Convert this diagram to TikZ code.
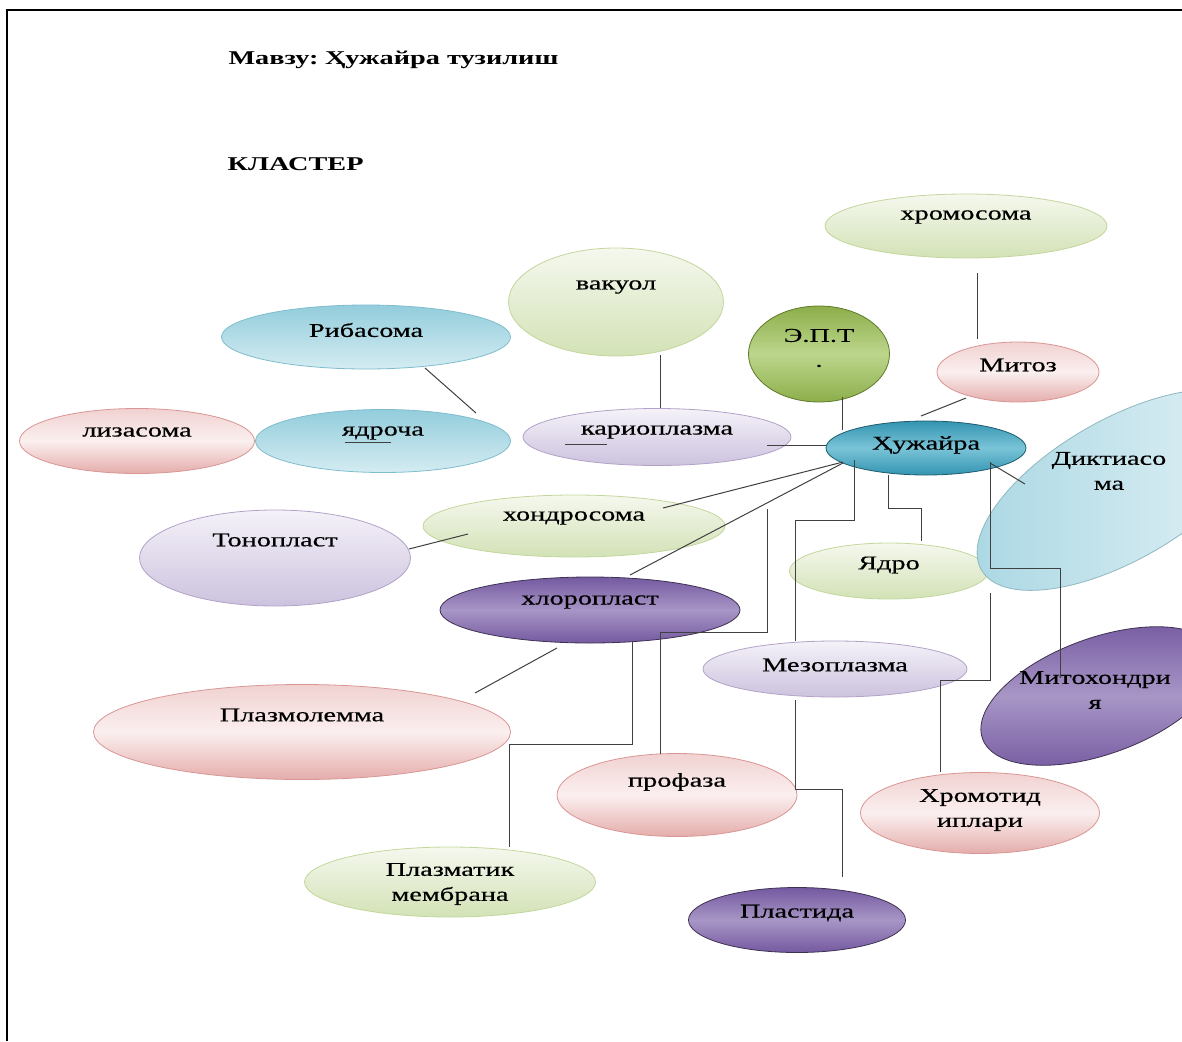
\documentclass[tikz,border=0pt]{standalone}
\usepackage{fontspec}
\setmainfont{Liberation Serif}[FakeStretch=1.45, UprightFeatures={FakeBold=0.5}]
\usetikzlibrary{shapes.geometric,calc}

\definecolor{grnlt}{HTML}{F5F8EE}
\definecolor{grndk}{HTML}{D3E2B6}
\definecolor{grnln}{HTML}{C3D69B}
\definecolor{blult}{HTML}{D4ECF2}
\definecolor{bludk}{HTML}{93CDDC}
\definecolor{bluln}{HTML}{7FBCCD}
\definecolor{pnklt}{HTML}{FBEFEF}
\definecolor{pnkdk}{HTML}{E4ADAB}
\definecolor{pnkln}{HTML}{D99694}
\definecolor{lillt}{HTML}{F5F2F9}
\definecolor{lildk}{HTML}{CCC2DE}
\definecolor{lilln}{HTML}{B3A2C7}
\definecolor{plmlt}{HTML}{A896C6}
\definecolor{plmdk}{HTML}{7459A0}
\definecolor{plmln}{HTML}{3F3151}
\definecolor{olvlt}{HTML}{BCD68C}
\definecolor{olvdk}{HTML}{8DAE4B}
\definecolor{olvln}{HTML}{5E7A2A}
\definecolor{hublt}{HTML}{7AC4D8}
\definecolor{hubdk}{HTML}{3394B1}
\definecolor{hubln}{HTML}{1E5C6E}
\definecolor{dsklt}{HTML}{E6F3F7}
\definecolor{dskdk}{HTML}{A9D7E3}

\begin{document}
\begin{tikzpicture}[
    x=1pt, y=-1pt,
    font=\fontsize{19.5}{25}\selectfont,
    head/.style={anchor=base west, font=\fontsize{19.5}{25}\selectfont\bfseries},
    cell/.style={ellipse, inner sep=0pt, outer sep=0pt, line width=0.8pt},
    cellgreen/.style={cell, draw=grnln, top color=grnlt, bottom color=grndk},
    cellblue/.style={cell, draw=bluln, top color=bludk, bottom color=blult},
    cellpink/.style={cell, draw=pnkln, top color=pnkdk!55!white, bottom color=pnkdk, middle color=pnklt},
    celllilac/.style={cell, draw=lilln, top color=lillt, bottom color=lildk},
    cellplum/.style={cell, draw=plmln, top color=plmdk, bottom color=plmdk, middle color=plmlt},
    cellolive/.style={cell, draw=olvln, top color=olvdk, bottom color=olvdk, middle color=olvlt},
    cellhub/.style={cell, draw=hubln, top color=hubdk, bottom color=hubdk, middle color=hublt},
    celldikt/.style={cell, draw=dskdk!85!black, left color=dskdk, right color=dsklt},
    link/.style={draw=black!75, line width=1pt}
]
    \useasboundingbox (0,0) rectangle (1182,1041);
    \clip (0,0) rectangle (1182,1041);

    % page frame
    \draw[line width=2.2pt] (7,1041) -- (7,10) -- (1182,10);

    \node[head] (title) at (225,64) {Мавзу:\hspace{-3pt} Ҳужайра тузилиш};
    \node[head] (klaster) at (224,170) {КЛАСТЕР};

    \node[cellgreen, minimum width=282pt, minimum height=64pt, label={[yshift=9pt]center:хромосома}] (hromosoma) at (966,226) {};
    \node[cellgreen, minimum width=215pt, minimum height=108pt, label={[yshift=15pt]center:вакуол}] (vakuol) at (616,302) {};
    \node[cellblue, minimum width=289pt, minimum height=64pt, label={[yshift=7pt]center:Рибасома}] (ribasoma) at (366,337) {};
    \node[cellolive, minimum width=141pt, minimum height=96pt, label={[align=center, yshift=6pt]center:Э.П.Т\\.}] (ept) at (819,354) {};
    \node[cellpink, minimum width=162pt, minimum height=60pt, label={[yshift=7pt]center:Митоз}] (mitoz) at (1018,372) {};
    \node[cellpink, minimum width=235pt, minimum height=65pt, label={[yshift=9pt]center:лизасома}] (lizasoma) at (137,441) {};
    \node[cellblue, minimum width=255pt, minimum height=63pt, label={[yshift=8pt]center:ядроча}] (yadrocha) at (383,441) {};
    \node[celllilac, minimum width=268pt, minimum height=57pt, label={[yshift=5pt]center:кариоплазма}] (karioplazma) at (657,437) {};
    \node[cellhub, minimum width=200pt, minimum height=54pt, label={[yshift=3pt]center:Ҳужайра}] (hujayra) at (926,448) {};
    \node[celllilac, minimum width=271pt, minimum height=96pt, label={[yshift=18pt]center:Тонопласт}] (tonoplast) at (275,558) {};
    \node[cellgreen, minimum width=302pt, minimum height=62pt, label={[yshift=8pt]center:хондросома}] (hondrosoma) at (574,526) {};
    \node[cellgreen, minimum width=199pt, minimum height=56pt, label={[yshift=6pt]center:Ядро}] (yadro) at (889,571) {};
    \node[celldikt, minimum width=320pt, minimum height=140pt, rotate=30] (diktiasoma) at (1120,490) {};
    \node[align=center] (diktiasoma-t) at (1109,471) {Диктиасо\\ма};
    \node[cellplum, minimum width=300pt, minimum height=66pt, label={[yshift=8pt]center:хлоропласт}] (xloroplast) at (590,610) {};
    \node[celllilac, minimum width=264pt, minimum height=56pt, label={[yshift=4pt]center:Мезоплазма}] (mezoplazma) at (835,669) {};
    \node[cellpink, minimum width=417pt, minimum height=95pt, label={[yshift=17pt]center:Плазмолемма}] (plazmolemma) at (302,732) {};
    \node[cellplum, minimum width=250pt, minimum height=116pt, rotate=20] (mitohondriya) at (1100,696) {};
    \node[align=center] (mitohondriya-t) at (1095,690) {Митохондри\\я};
    \node[cellpink, minimum width=240pt, minimum height=83pt, label={[yshift=13pt]center:профаза}] (profaza) at (677,795) {};
    \node[cellpink, minimum width=239pt, minimum height=81pt, label={[align=center, yshift=3pt]center:Хромотид\\иплари}] (hromotid) at (980,813) {};
    \node[cellgreen, minimum width=291pt, minimum height=70pt, label={[align=center, yshift=-2pt]center:Плазматик\\мембрана}] (plazmatik) at (450,882) {};
    \node[cellplum, minimum width=217pt, minimum height=65pt, label={[yshift=7pt]center:Пластида}] (plastida) at (797,920) {};

    % connectors
    \draw[link] ($(hromosoma)+(11,47)$) -- ($(mitoz)+(-41,-33)$);
    \draw[link] ($(vakuol)+(44,53)$) -- ($(karioplazma)+(3,-29)$);
    \draw[link] ($(ribasoma)+(59,31)$) -- ($(yadrocha)+(93,-28)$);
    \draw[link] ($(ept)+(23,43)$) -- ($(hujayra)+(-84,-18)$);
    \draw[link] ($(mitoz)+(-52,26)$) -- ($(hujayra)+(-5,-32)$);
    \draw[link] ($(karioplazma)+(110,8)$) -- ($(hujayra)+(-100,-3)$);
    \draw[link] ($(hondrosoma)+(89,-18)$) -- ($(hujayra)+(-83,14)$);
    \draw[link] ($(tonoplast)+(134,-9)$) -- ($(hondrosoma)+(-106,8)$);
    \draw[link] ($(hujayra)+(-83,15)$) -- ($(xloroplast)+(40,-35)$);
    \draw[link] ($(hujayra)+(-159,61)$) |- ($(xloroplast)+(70,22)$) -- ($(profaza)+(-17,-41)$);
    \draw[link] ($(hujayra)+(-72,12)$) -- ++(0,60) -| ($(mezoplazma)+(-40,-28)$);
    \draw[link] ($(hujayra)+(-38,27)$) -- ++(0,33) -| ($(yadro)+(32,-30)$);
    \draw[link] ($(hujayra)+(64,14)$) -- ++(0,106) -| ($(mitohondriya)+(-40,-19)$);
    \draw[link] ($(hujayra)+(64,15)$) -- ($(diktiasoma)+(-95,-6)$);
    \draw[link] ($(yadro)+(101,22)$) -- ++(0,87) -| ($(hromotid)+(-40,-41)$);
    \draw[link] ($(mezoplazma)+(-40,31)$) -- ++(0,89) -| ($(plastida)+(45,-43)$);
    \draw[link] ($(xloroplast)+(-33,38)$) -- ($(plazmolemma)+(173,-39)$);
    \draw[link] ($(xloroplast)+(42,32)$) -- ++(0,102) -| ($(plazmatik)+(59,-35)$);
    \draw[link] ($(karioplazma)+(-92,7)$) -- ++(42,0);
    \draw[link] ($(yadrocha)+(-38,1)$) -- ++(46,0);
\end{tikzpicture}
\end{document}
